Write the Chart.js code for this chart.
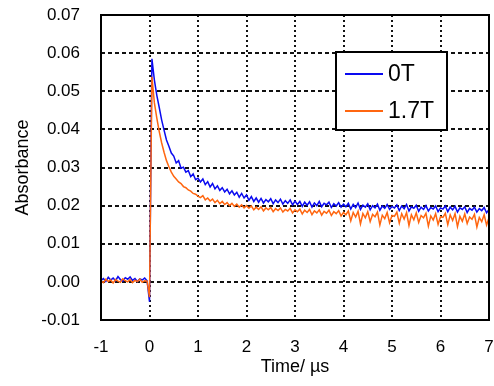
<!DOCTYPE html>
<html>
<head>
<meta charset="utf-8">
<script src="https://cdn.jsdelivr.net/npm/chart.js@4.4.1/dist/chart.umd.min.js"></script>
<style>
  html, body { margin: 0; padding: 0; background: #fff; }
  #wrap { width: 494px; height: 386px; }
</style>
</head>
<body>
<div id="wrap"><canvas id="absChart" width="494" height="386"></canvas></div>
<script>
// time axis: samples every 0.05 us from -1 to 7
const tStart = -1;
const tStep = 0.05;

const seriesNames = ['0T', '1.7T'];

// absorbance (one value per 0.05 us)
const abs0T = [
  0.0004, 0.0009, 0.0001, 0.0012, 0.0005, 0.0010, 0.0003, 0.0014, 0.0006, 0.0002,
  0.0011, 0.0007, 0.0013, 0.0004, 0.0009, 0.0001, 0.0008, 0.0005, 0.0010, 0.0003,
  -0.0052,
  0.0585, 0.0530, 0.0490, 0.0458, 0.0425, 0.0398, 0.0372, 0.0356, 0.0338, 0.0330,
  0.0312, 0.0318, 0.0298, 0.0301, 0.0288, 0.0292, 0.0276, 0.0283, 0.0268, 0.0272,
  0.0262, 0.0270, 0.0255, 0.0263, 0.0249, 0.0258, 0.0244, 0.0252, 0.0240, 0.0247,
  0.0236, 0.0243, 0.0231, 0.0239, 0.0228, 0.0235, 0.0222, 0.0232, 0.0220, 0.0228,
  0.0214, 0.0224, 0.0211, 0.0220, 0.0209, 0.0219, 0.0207, 0.0216, 0.0210, 0.0218,
  0.0205, 0.0215, 0.0208, 0.0217, 0.0204, 0.0213, 0.0206, 0.0215, 0.0202, 0.0212,
  0.0203, 0.0211, 0.0198, 0.0209, 0.0201, 0.0210, 0.0196, 0.0207, 0.0200, 0.0211,
  0.0197, 0.0206, 0.0202, 0.0209, 0.0195, 0.0205, 0.0199, 0.0208, 0.0196, 0.0204,
  0.0197, 0.0206, 0.0191, 0.0203, 0.0195, 0.0207, 0.0190, 0.0201, 0.0196, 0.0205,
  0.0189, 0.0200, 0.0194, 0.0204, 0.0188, 0.0199, 0.0193, 0.0203, 0.0190, 0.0198,
  0.0194, 0.0202, 0.0187, 0.0199, 0.0192, 0.0203, 0.0186, 0.0197, 0.0193, 0.0201,
  0.0185, 0.0196, 0.0190, 0.0200, 0.0186, 0.0195, 0.0191, 0.0199, 0.0184, 0.0194,
  0.0191, 0.0199, 0.0184, 0.0196, 0.0189, 0.0198, 0.0183, 0.0194, 0.0190, 0.0197,
  0.0182, 0.0193, 0.0188, 0.0196, 0.0183, 0.0192, 0.0187, 0.0195, 0.0181, 0.0190
];

const abs17T = [
  0.0003, -0.0002, 0.0007, 0.0001, 0.0005, -0.0003, 0.0006, 0.0002, -0.0001, 0.0008,
  0.0003, 0.0000, 0.0006, -0.0002, 0.0004, 0.0001, 0.0007, -0.0001, 0.0003, 0.0002,
  -0.0040,
  0.0538, 0.0470, 0.0430, 0.0395, 0.0365, 0.0340, 0.0318, 0.0302, 0.0288, 0.0277,
  0.0270, 0.0262, 0.0258, 0.0250, 0.0247, 0.0241, 0.0238, 0.0232, 0.0230, 0.0225,
  0.0221, 0.0226, 0.0215, 0.0220, 0.0212, 0.0217, 0.0208, 0.0214, 0.0205, 0.0211,
  0.0203, 0.0208, 0.0200, 0.0206, 0.0198, 0.0204, 0.0196, 0.0202, 0.0194, 0.0200,
  0.0193, 0.0199, 0.0189, 0.0196, 0.0190, 0.0197, 0.0186, 0.0194, 0.0189, 0.0195,
  0.0184, 0.0192, 0.0187, 0.0194, 0.0183, 0.0190, 0.0186, 0.0193, 0.0181, 0.0189,
  0.0184, 0.0191, 0.0178, 0.0188, 0.0182, 0.0190, 0.0176, 0.0186, 0.0181, 0.0189,
  0.0175, 0.0185, 0.0180, 0.0188, 0.0174, 0.0184, 0.0179, 0.0187, 0.0173, 0.0182,
  0.0176, 0.0186, 0.0160, 0.0182, 0.0170, 0.0185, 0.0152, 0.0179, 0.0168, 0.0184,
  0.0158, 0.0177, 0.0171, 0.0183, 0.0149, 0.0175, 0.0166, 0.0182, 0.0155, 0.0174,
  0.0172, 0.0183, 0.0154, 0.0179, 0.0165, 0.0182, 0.0148, 0.0176, 0.0163, 0.0181,
  0.0156, 0.0174, 0.0168, 0.0180, 0.0146, 0.0173, 0.0162, 0.0179, 0.0151, 0.0171,
  0.0169, 0.0180, 0.0150, 0.0176, 0.0161, 0.0179, 0.0145, 0.0172, 0.0159, 0.0178,
  0.0153, 0.0170, 0.0164, 0.0177, 0.0144, 0.0169, 0.0158, 0.0176, 0.0149, 0.0168
];

const xTicks = [-1, 0, 1, 2, 3, 4, 5, 6, 7];
const yTicks = [-0.01, 0.00, 0.01, 0.02, 0.03, 0.04, 0.05, 0.06, 0.07];

const toPoints = arr => arr.map((v, i) => ({ x: +(tStart + i * tStep).toFixed(2), y: v }));

const FONT = 'Arial, "Liberation Sans", sans-serif';

// boxed legend sitting inside the plot, top right
const boxLegend = {
  id: 'boxLegend',
  afterDraw(chart) {
    const ctx = chart.ctx;
    const a = chart.chartArea;
    const x0 = a.left + 235, y0 = a.top + 37, w = 111, h = 78;
    ctx.save();
    ctx.fillStyle = '#fff';
    ctx.fillRect(x0, y0, w, h);
    ctx.strokeStyle = '#000';
    ctx.lineWidth = 2;
    ctx.strokeRect(x0, y0, w, h);
    ctx.font = '23px ' + FONT;
    ctx.textBaseline = 'middle';
    chart.data.datasets.forEach((ds, i) => {
      const ly = y0 + 22 + i * 37;
      ctx.strokeStyle = ds.borderColor;
      ctx.lineWidth = 2;
      ctx.beginPath();
      ctx.moveTo(x0 + 9, ly);
      ctx.lineTo(x0 + 47, ly);
      ctx.stroke();
      ctx.fillStyle = '#000';
      ctx.fillText(ds.label, x0 + 52, ly + 1);
    });
    ctx.restore();
  }
};

// black frame round the plot
const plotFrame = {
  id: 'plotFrame',
  afterDatasetsDraw(chart) {
    const ctx = chart.ctx;
    const a = chart.chartArea;
    ctx.save();
    ctx.strokeStyle = '#000';
    ctx.lineWidth = 2;
    ctx.strokeRect(a.left, a.top, a.right - a.left, a.bottom - a.top);
    ctx.restore();
  }
};

const ctx = document.getElementById('absChart').getContext('2d');
new Chart(ctx, {
  type: 'line',
  data: {
    datasets: [
      {
        label: seriesNames[0],
        data: toPoints(abs0T),
        borderColor: '#0a0af0',
        borderWidth: 1.5,
        pointRadius: 0,
        order: 2
      },
      {
        label: seriesNames[1],
        data: toPoints(abs17T),
        borderColor: '#ff6610',
        borderWidth: 1.5,
        pointRadius: 0,
        order: 1
      }
    ]
  },
  options: {
    responsive: false,
    animation: false,
    layout: { autoPadding: false, padding: { top: 15, right: 5, left: 0, bottom: 0 } },
    plugins: {
      legend: { display: false },
      tooltip: { enabled: false }
    },
    scales: {
      x: {
        type: 'linear',
        min: -1,
        max: 7,
        afterBuildTicks: s => { s.ticks = xTicks.map(v => ({ value: v })); },
        afterFit: s => { s.height = 66; s.paddingLeft = 0; s.paddingRight = 0; },
        grid: { color: '#111', lineWidth: 2, drawTicks: false },
        border: { display: false, dash: [2, 3] },
        ticks: { color: '#000', padding: 17, font: { family: FONT, size: 17 }, maxRotation: 0 },
        title: { display: true, text: 'Time/ µs', color: '#000', font: { family: FONT, size: 18 }, padding: { top: 0, bottom: 8 } }
      },
      y: {
        min: -0.01,
        max: 0.07,
        afterBuildTicks: s => { s.ticks = yTicks.map(v => ({ value: v })); },
        afterFit: s => { s.width = 101; s.paddingTop = 0; s.paddingBottom = 0; },
        grid: { color: '#111', lineWidth: 2, drawTicks: false },
        border: { display: false, dash: [4, 3] },
        ticks: { color: '#000', padding: 21, font: { family: FONT, size: 17 }, callback: v => v.toFixed(2) },
        title: { display: true, text: 'Absorbance', color: '#000', font: { family: FONT, size: 18 }, padding: { top: 12, bottom: 0 } }
      }
    }
  },
  plugins: [plotFrame, boxLegend]
});
</script>
</body>
</html>
